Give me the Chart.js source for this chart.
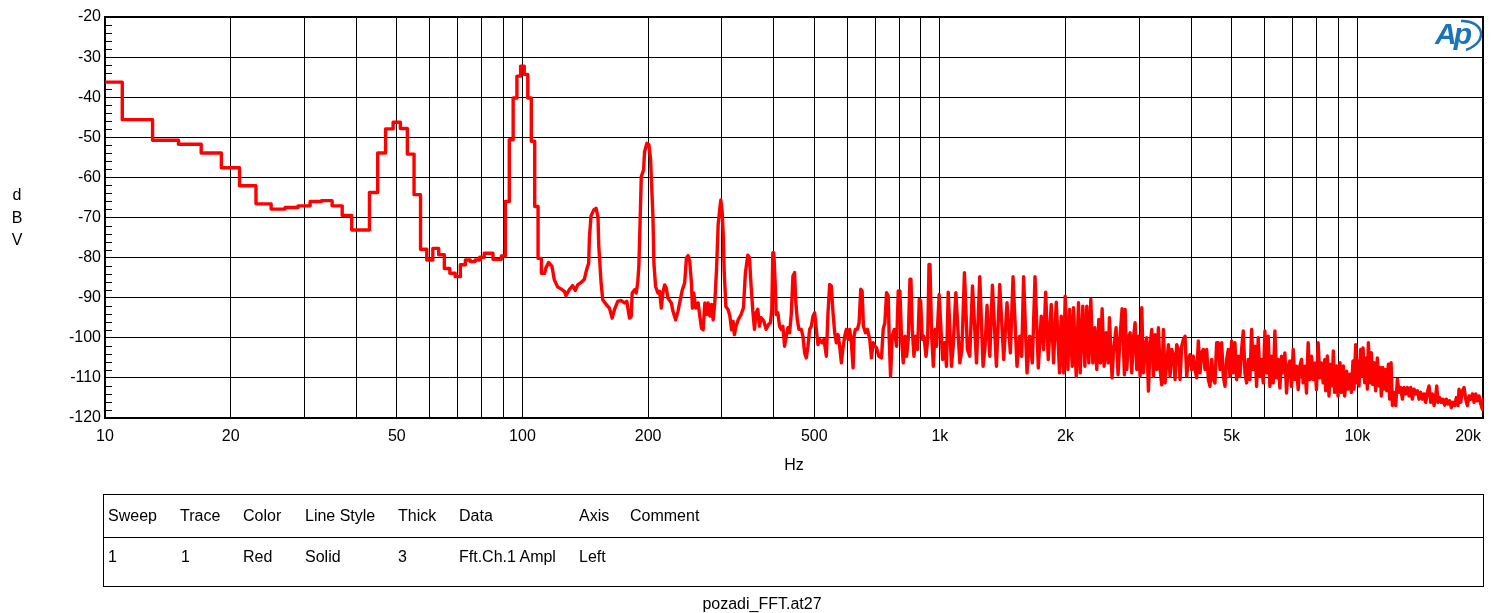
<!DOCTYPE html>
<html>
<head>
<meta charset="utf-8">
<title>pozadi_FFT.at27</title>
<script src="https://cdn.jsdelivr.net/npm/chart.js@4.4.1/dist/chart.umd.min.js"></script>
<style>
  html, body { margin: 0; padding: 0; background: #fff; }
  body { width: 1504px; height: 613px; position: relative; overflow: hidden;
         font-family: "Liberation Sans", Arial, sans-serif; font-size: 16px; color: #000; }
  #fft { position: absolute; left: 0; top: 0; }
  .abs { position: absolute; white-space: nowrap; line-height: 18px; }
  #unit { position: absolute; left: 7px; top: 184px; width: 20px; text-align: center; line-height: 22.5px; }
  #legendBox { position: absolute; left: 103px; top: 494px; width: 1379px; height: 91px; border: 1px solid #000; }
  #legendRule { position: absolute; left: 0; right: 0; top: 42px; border-top: 1px solid #000; }
  #file { left: 662px; top: 595px; width: 200px; text-align: center; }
  #logo { position: absolute; left: 1430px; top: 16px; width: 60px; height: 40px; }
  #logo span { position: absolute; left: 5px; top: 3px; font-size: 30px; line-height: 30px;
               font-weight: bold; font-style: italic; letter-spacing: -3px; color: #1b73ba; }
  #logo svg { position: absolute; left: 0; top: 0; }
</style>
</head>
<body>
<canvas id="fft" width="1504" height="613"></canvas>
<div id="unit">d<br>B<br>V</div>
<div id="logo">
  <svg width="60" height="40"><path d="M31 5 C53 4, 60 25, 36 34" fill="none" stroke="#1b73ba" stroke-width="2.5"/></svg>
  <span>Ap</span>
</div>
<div id="legendBox"><div id="legendRule"></div></div>
<div id="legendText"></div>
<div id="file" class="abs">pozadi_FFT.at27</div>
<script>
// FFT bins below ~113 Hz are drawn as steps (2 Hz bin width)
const firstBinHz = 10;
const binWidthHz = 2;
const lowBinDb = [-36.25, -45.6, -50.75, -51.75, -53.9, -57.6, -62.1, -66.6, -67.9, -67.5,
  -67.1, -66.0, -65.8, -67.1, -69.5, -73.1, -73.1, -63.75, -53.9, -47.9,
  -46.25, -47.8, -54.2, -64.3, -77.9, -80.6, -77.7, -79.3, -82.7, -83.9,
  -84.75, -81.8, -80.6, -81.0, -80.6, -79.9, -78.9, -78.9, -80.4, -80.4,
  -79.6, -66.0, -50.6, -40.2, -34.75, -32.25, -34.3, -40.2, -51.0, -67.25,
  -80.2, -83.9];

// 113 - 320 Hz
const hzA = [113.8, 115.5, 117.7, 119.2, 121.4, 123.7, 126.0, 127.1, 129.5, 131.9,
  133.8, 135.6, 138.2, 140.7, 142.5, 144.1, 144.7, 146.0, 148.2, 150.1,
  151.7, 152.3, 154.3, 155.7, 158.7, 161.6, 164.0, 166.1, 169.2, 172.4,
  175.6, 177.8, 180.5, 182.2, 183.2, 185.6, 187.3, 189.0, 190.1, 191.5,
  192.6, 195.1, 196.1, 198.7, 200.9, 202.8, 203.6, 205.4, 206.5, 208.4,
  211.1, 213.1, 215.1, 217.0, 219.1, 221.1, 223.1, 227.3, 229.4, 232.8,
  235.8, 238.0, 241.6, 244.7, 247.1, 249.3, 251.6, 254.0, 255.4, 257.3,
  260.1, 263.5, 266.0, 268.5, 270.9, 273.5, 276.1, 278.5, 281.2, 283.8,
  286.3, 288.9, 291.7, 294.3, 297.1, 298.7, 300.9, 302.6, 304.2, 307.1,
  311.0, 314.0, 316.9, 319.7];
const dbA = [-82.6, -81.2, -82.2, -85.5, -87.3, -87.8, -88.4, -89.5, -88.0, -87.0,
  -88.2, -86.8, -86.2, -85.4, -83.0, -81.4, -74.9, -69.6, -68.1, -67.7,
  -69.9, -76.8, -86.3, -90.5, -91.7, -92.6, -95.1, -93.0, -90.9, -90.7,
  -91.3, -90.9, -95.1, -94.7, -88.8, -88.0, -88.8, -85.9, -81.8, -69.8,
  -59.8, -58.1, -53.6, -51.5, -51.9, -55.6, -60.2, -69.8, -81.4, -87.2,
  -88.8, -88.4, -92.6, -88.8, -86.8, -87.6, -90.1, -91.3, -93.4, -95.5,
  -93.4, -91.3, -88.0, -86.3, -80.1, -79.5, -80.9, -86.3, -92.6, -88.8,
  -92.6, -91.3, -94.6, -97.6, -98.0, -91.3, -94.2, -91.3, -94.6, -91.7,
  -95.5, -91.3, -83.0, -71.8, -67.7, -65.6, -68.5, -73.9, -83.0, -92.2,
  -93.0, -94.6, -98.0, -95.9];

// 320 - 975 Hz
const hzB = [321.9, 324.9, 329.1, 334.0, 338.4, 342.1, 346.6, 349.8, 353.0, 356.3,
  359.6, 362.9, 366.3, 369.6, 373.1, 378.6, 383.5, 388.5, 392.8, 395.7,
  397.9, 400.1, 403.1, 405.3, 409.1, 412.9, 416.7, 420.6, 424.5, 428.5,
  432.4, 436.4, 440.5, 444.6, 448.7, 451.2, 455.3, 459.6, 465.5, 469.8,
  474.2, 478.6, 483.0, 487.5, 492.0, 496.6, 501.2, 505.8, 510.5, 515.2,
  521.9, 527.7, 534.6, 539.5, 544.5, 549.5, 554.6, 559.8, 564.9, 570.2,
  575.4, 580.8, 586.1, 591.6, 597.0, 602.6, 608.1, 613.8, 619.5, 622.9,
  627.5, 634.5, 640.4, 646.3, 651.1, 655.9, 663.2, 670.6, 679.3, 685.6,
  692.0, 698.4, 704.8, 714.0, 724.6, 731.3, 738.3, 745.2, 752.1, 756.2,
  761.8, 768.9, 777.4, 787.5, 794.8, 802.1, 809.5, 817.0, 824.6, 832.3,
  839.9, 847.7, 852.4, 858.7, 866.7, 874.7, 884.4, 892.6, 899.2, 907.5,
  915.9, 926.2, 934.8, 941.7, 946.9, 955.7, 964.5, 973.4];
const dbB = [-99.2, -97.1, -95.4, -94.2, -92.5, -83.75, -79.4, -80.0, -87.1, -93.3,
  -97.9, -93.75, -92.9, -97.1, -95.0, -95.8, -97.9, -96.7, -96.25, -92.9,
  -78.75, -78.75, -86.25, -94.2, -93.75, -97.1, -97.9, -97.1, -102.1, -99.6,
  -97.5, -98.75, -94.2, -84.6, -83.75, -90.4, -95.4, -97.9, -97.9, -99.6,
  -103.75, -105.0, -102.1, -97.9, -97.1, -94.6, -93.75, -97.9, -101.7, -100.4,
  -101.25, -100.4, -104.6, -93.75, -86.7, -87.1, -93.75, -98.75, -101.25, -99.2,
  -102.1, -106.25, -102.5, -99.6, -97.9, -100.4, -97.9, -101.25, -107.5, -99.6,
  -97.9, -97.9, -96.25, -87.9, -88.3, -97.1, -98.75, -97.9, -100.4, -105.0,
  -101.25, -102.1, -102.5, -104.6, -105.0, -97.9, -96.25, -88.75, -89.6, -100.4,
  -109.6, -99.6, -97.9, -102.1, -88.3, -88.3, -100.4, -106.25, -99.6, -104.6,
  -100.4, -85.4, -85.4, -97.9, -104.6, -99.6, -102.9, -90.4, -90.8, -100.4,
  -99.6, -104.6, -100.4, -81.7, -82.1, -99.6, -107.1, -97.9];

// 980 Hz - 2.77 kHz
const hzC = [982, 996, 1015, 1026, 1037, 1047, 1066, 1076, 1092, 1116,
  1129, 1145, 1164, 1179, 1197, 1224, 1246, 1269, 1283, 1297,
  1317, 1336, 1366, 1391, 1422, 1448, 1475, 1497, 1530, 1553,
  1570, 1587, 1617, 1641, 1665, 1690, 1721, 1749, 1772, 1792,
  1818, 1848, 1872, 1900, 1935, 1953, 1978, 1996, 2026, 2045,
  2075, 2090, 2121, 2148, 2168, 2200, 2225, 2249, 2274, 2299,
  2325, 2350, 2376, 2403, 2425, 2447, 2474, 2501, 2529, 2548,
  2585, 2604, 2643, 2672, 2702, 2732, 2767];
const dbC = [-102.1, -89.2, -105.4, -101.25, -107.1, -88.6, -107.1, -102.1, -88.75, -106.25,
  -102.9, -83.75, -102.9, -104.6, -87.1, -106.25, -84.75, -107.1, -102.1, -91.9,
  -104.6, -86.9, -107.1, -86.7, -105.4, -91.25, -103.75, -84.75, -107.1, -99.6,
  -104.6, -84.75, -108.75, -99.6, -106.25, -84.75, -107.5, -94.6, -102.9, -88.6,
  -105.4, -91.7, -106.25, -91.1, -108.75, -94.6, -108.75, -89.6, -107.9, -92.9,
  -107.1, -92.5, -109.6, -91.25, -108.75, -92.1, -107.1, -92.1, -106.25, -90.4,
  -106.25, -97.5, -107.9, -95.4, -106.25, -92.75, -107.1, -98.75, -106.25, -95.0,
  -110.0, -103.75, -97.5, -109.2, -99.6, -92.75, -109.2];

// 2.78 - 8.36 kHz
const hzD = [2778, 2804, 2830, 2856, 2882, 2909, 2935, 2962, 2990, 3017,
  3045, 3073, 3102, 3130, 3159, 3188, 3218, 3247, 3277, 3307,
  3338, 3369, 3400, 3431, 3463, 3495, 3527, 3559, 3592, 3625,
  3659, 3692, 3727, 3761, 3796, 3831, 3866, 3902, 3937, 3974,
  4010, 4047, 4085, 4122, 4160, 4199, 4237, 4277, 4316, 4356,
  4396, 4436, 4477, 4519, 4560, 4602, 4645, 4688, 4731, 4774,
  4819, 4863, 4908, 4953, 4999, 5045, 5091, 5138, 5186, 5233,
  5282, 5330, 5380, 5429, 5479, 5530, 5581, 5632, 5684, 5737,
  5789, 5843, 5897, 5951, 6006, 6061, 6117, 6174, 6230, 6288,
  6346, 6404, 6463, 6523, 6583, 6644, 6705, 6767, 6829, 6892,
  6956, 7020, 7085, 7150, 7216, 7282, 7350, 7417, 7486, 7555,
  7624, 7695, 7766, 7837, 7910, 7982, 8056, 8130, 8205, 8281,
  8357];
const dbD = [-92.9, -107.9, -100.0, -98.75, -108.75, -100.0, -96.25, -107.9, -99.6, -109.6,
  -92.5, -108.75, -102.1, -100.0, -113.3, -102.1, -97.9, -109.6, -99.2, -107.9,
  -97.5, -107.9, -111.7, -97.9, -111.25, -106.25, -101.7, -109.6, -102.9, -104.2,
  -110.4, -101.7, -102.9, -110.4, -102.1, -100.4, -99.6, -109.6, -105.4, -104.2,
  -107.9, -104.6, -107.9, -110.0, -100.8, -108.75, -103.75, -102.9, -107.9, -102.9,
  -110.4, -112.1, -105.4, -110.4, -111.25, -101.25, -101.25, -107.9, -101.25, -109.6,
  -112.1, -105.4, -102.9, -109.6, -100.8, -108.75, -101.25, -110.4, -104.6, -109.6,
  -102.9, -98.3, -108.75, -111.25, -105.4, -110.4, -97.9, -107.9, -102.1, -112.1,
  -100.0, -109.6, -105.4, -111.25, -98.3, -108.75, -99.6, -112.1, -104.6, -111.25,
  -98.3, -110.0, -105.4, -112.5, -104.6, -108.75, -103.75, -113.75, -107.1, -105.8,
  -112.1, -102.9, -110.4, -107.1, -112.9, -107.1, -105.4, -111.25, -107.1, -113.75,
  -101.25, -110.4, -104.6, -110.4, -106.25, -112.9, -101.25, -110.0, -106.25, -111.25,
  -105.4];

// 8.4 - 20 kHz
const hzE = [8396, 8475, 8553, 8631, 8710, 8759, 8823, 8923, 8989, 9089,
  9156, 9257, 9324, 9428, 9497, 9603, 9674, 9763, 9818, 9908,
  9963, 10037, 10092, 10186, 10242, 10318, 10413, 10510, 10568, 10627,
  10724, 10804, 10884, 10965, 11063, 11166, 11270, 11332, 11416, 11500,
  11586, 11693, 11758, 11867, 11955, 12044, 12133, 12245, 12358, 12472,
  12587, 12704, 12821, 12940, 13059, 13180, 13299, 13422, 13546, 13672,
  13798, 13926, 14054, 14184, 14316, 14448, 14582, 14716, 14852, 14990,
  15128, 15268, 15409, 15495, 15609, 15754, 15899, 16046, 16191, 16341,
  16492, 16644, 16798, 16954, 17110, 17268, 17428, 17524, 17687, 17850,
  18015, 18182, 18350, 18520, 18691, 18864, 19038, 19214, 19392, 19571,
  19752, 19934, 20045];
const dbE = [-113.2, -104.5, -114.5, -106.6, -112.0, -103.3, -113.6, -107.0, -114.5, -106.2,
  -113.6, -107.0, -114.5, -108.3, -112.8, -109.1, -113.6, -105.8, -112.8, -101.7,
  -111.2, -105.8, -112.0, -102.9, -109.5, -102.5, -111.2, -105.0, -112.8, -101.2,
  -111.2, -103.7, -111.6, -106.2, -113.2, -105.0, -112.0, -107.4, -114.5, -107.4,
  -112.8, -107.9, -113.2, -106.6, -115.3, -106.2, -116.9, -113.6, -116.9, -110.3,
  -113.6, -112.4, -115.3, -112.4, -114.0, -112.4, -114.5, -112.4, -115.3, -112.8,
  -114.0, -113.2, -115.3, -113.6, -115.3, -114.0, -116.1, -113.6, -112.0, -116.1,
  -114.0, -116.9, -114.5, -112.0, -116.1, -114.9, -116.1, -115.3, -116.8, -115.3,
  -116.5, -115.7, -117.4, -116.1, -116.9, -114.9, -116.9, -112.8, -116.1, -113.2,
  -112.4, -115.3, -116.9, -114.5, -115.3, -114.0, -116.1, -114.0, -115.7, -114.5,
  -116.5, -117.8, -115.3];

const xLabelHz = [10, 20, 50, 100, 200, 500, 1000, 2000, 5000, 10000, 20000];
const xLabelText = ['10', '20', '50', '100', '200', '500', '1k', '2k', '5k', '10k', '20k'];
const yTicks = [-120, -110, -100, -90, -80, -70, -60, -50, -40, -30, -20];

const legendHeaders = ['Sweep', 'Trace', 'Color', 'Line Style', 'Thick', 'Data', 'Axis', 'Comment'];
const legendRow = ['1', '1', 'Red', 'Solid', '3', 'Fft.Ch.1 Ampl', 'Left'];

// legend table text
const headerLeft = [108, 180, 243, 305, 398, 459, 579, 630];
const rowLeft = [108, 181, 243, 305, 398, 459, 579];
const legendText = document.getElementById('legendText');
legendHeaders.forEach((t, i) => {
    const s = document.createElement('div');
    s.className = 'abs';
    s.style.left = headerLeft[i] + 'px';
    s.style.top = '507px';
    s.textContent = t;
    legendText.appendChild(s);
});
legendRow.forEach((t, i) => {
    const s = document.createElement('div');
    s.className = 'abs';
    s.style.left = rowLeft[i] + 'px';
    s.style.top = '548px';
    s.textContent = t;
    legendText.appendChild(s);
});

// build the trace
const points = [];
lowBinDb.forEach((v, i) => {
    const centre = firstBinHz + i * binWidthHz;
    points.push({ x: Math.max(centre - binWidthHz / 2, 10), y: v });
    points.push({ x: centre + binWidthHz / 2, y: v });
});
const traceHz = [].concat(hzA, hzB, hzC, hzD, hzE);
const traceDb = [].concat(dbA, dbB, dbC, dbD, dbE);
traceHz.forEach((f, i) => points.push({ x: f, y: traceDb[i] }));

// grid at 1..9 of every decade
const xGridHz = [];
for (let d = 10; d <= 10000; d *= 10) {
    for (let m = 1; m <= 9; m++) xGridHz.push(m * d);
}
xGridHz.push(20000);

const plotFrame = {
    id: 'plotFrame',
    beforeDatasetsDraw(chart) {
        const { ctx, chartArea: a, scales: { y } } = chart;
        ctx.save();
        ctx.strokeStyle = '#000';
        ctx.lineWidth = 1;
        // small ticks every 2 dB on the left axis
        for (let v = -118; v < -20; v += 2) {
            if (v % 10 === 0) continue;
            const py = Math.round(y.getPixelForValue(v)) + 0.5;
            ctx.beginPath();
            ctx.moveTo(a.left, py);
            ctx.lineTo(a.left + 7, py);
            ctx.stroke();
        }
        ctx.lineWidth = 2;
        ctx.strokeRect(a.left, a.top, a.right - a.left, a.bottom - a.top);
        ctx.restore();
    },
    afterDraw(chart) {
        const { ctx, chartArea: a, scales: { x } } = chart;
        ctx.save();
        ctx.fillStyle = '#000';
        ctx.font = '16px "Liberation Sans", Arial, sans-serif';
        ctx.textAlign = 'center';
        ctx.textBaseline = 'middle';
        xLabelHz.forEach((f, i) => {
            const w = ctx.measureText(xLabelText[i]).width;
            const cx = Math.min(x.getPixelForValue(f), a.right - 2 - w / 2);
            ctx.fillText(xLabelText[i], cx, a.bottom + 19);
        });
        ctx.fillText('Hz', (a.left + a.right) / 2, a.bottom + 48);
        ctx.restore();
    }
};

Chart.defaults.font.family = '"Liberation Sans", Arial, sans-serif';
Chart.defaults.color = '#000';

new Chart(document.getElementById('fft'), {
    type: 'line',
    data: {
        datasets: [{
            label: 'Fft.Ch.1 Ampl',
            data: points,
            borderColor: '#ff0000',
            borderWidth: 3.4,
            borderJoinStyle: 'round',
            borderCapStyle: 'round',
            pointRadius: 0,
            tension: 0,
            fill: false
        }]
    },
    options: {
        responsive: false,
        animation: false,
        events: [],
        layout: { padding: { top: 17, right: 21, bottom: 0, left: 0 } },
        plugins: { legend: { display: false }, tooltip: { enabled: false } },
        scales: {
            x: {
                type: 'logarithmic',
                min: 10,
                max: 20000,
                afterBuildTicks: (s) => { s.ticks = xGridHz.map(v => ({ value: v })); },
                afterFit: (s) => { s.height = 613 - 418; },
                ticks: { display: false },
                grid: { color: '#000', lineWidth: 1, drawTicks: false },
                border: { display: false }
            },
            y: {
                min: -120,
                max: -20,
                afterBuildTicks: (s) => { s.ticks = yTicks.map(v => ({ value: v })); },
                afterFit: (s) => { s.width = 105; },
                ticks: { color: '#000', font: { size: 16 }, padding: 4 },
                grid: { color: '#000', lineWidth: 1, drawTicks: false },
                border: { display: false }
            }
        }
    },
    plugins: [plotFrame]
});
</script>
</body>
</html>
